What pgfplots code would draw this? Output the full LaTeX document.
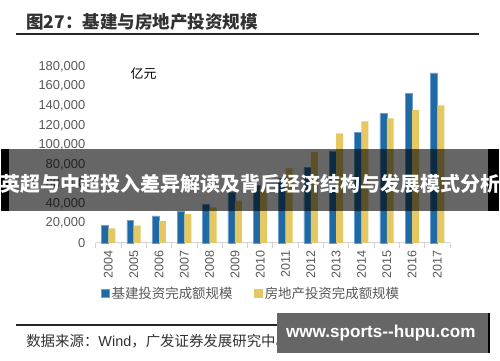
\documentclass[border=0pt]{standalone}
\usepackage{pgfplots}
\pgfplotsset{compat=1.18}
\usepackage{fontspec}
\setmainfont{Liberation Sans}
\newfontfamily\cjk{Noto Sans CJK SC}
\definecolor{barblue}{RGB}{31,106,165}
\definecolor{baredge}{RGB}{110,160,205}
\definecolor{baryellow}{RGB}{229,200,100}
\definecolor{ticktext}{RGB}{89,89,89}
\definecolor{axisgray}{RGB}{210,210,210}
\definecolor{titlegray}{RGB}{50,50,50}
\begin{document}
\begin{tikzpicture}[x=1pt,y=1pt]
\path[fill=white] (0,0) rectangle (500,362);
% title
\node[anchor=west,text=titlegray,inner sep=0pt] at (25,340.3) {\fontsize{17.6}{17.6}\selectfont\cjk\bfseries 图27：基建与房地产投资规模};
\draw[line width=1.3pt,black!85] (15,327.7) -- (480,327.7);
% axis
\begin{axis}[
  at={(95pt,118pt)}, anchor=south west,
  scale only axis, width=356pt, height=177pt,
  xmin=-0.5, xmax=13.5, ymin=0, ymax=180000,
  ybar=0pt, bar width=7pt,
  axis x line=bottom, axis y line=left,
  x axis line style={-,draw=axisgray,line width=0.8pt},
  y axis line style={draw=none},
  xtick={0,...,13},
  xticklabels={2004,2005,2006,2007,2008,2009,2010,2011,2012,2013,2014,2015,2016,2017},
  minor xtick={-0.5,0.5,...,13.5},
  major tick length=0pt, minor tick length=5pt,
  tick align=outside,
  minor tick style={draw=axisgray,line width=0.8pt},
  ytick={0,20000,...,180000},
  ytick style={draw=none},
  scaled y ticks=false,
  yticklabel={\pgfmathprintnumber[fixed,precision=0,1000 sep={,},assume math mode=true]{\tick}},
  yticklabel style={font=\fontsize{13}{13}\selectfont, text=ticktext, xshift=-7pt},
  xticklabel style={font=\fontsize{12.6}{12.6}\selectfont, text=ticktext, rotate=90, anchor=east, xshift=-4pt},
  legend columns=2,
  legend style={draw=none, fill=none, at={(0.438,-0.288)}, anchor=center,
    font=\fontsize{13.5}{13.5}\selectfont\cjk, text=ticktext,
    /tikz/every even column/.append style={column sep=20pt}},
  legend image code/.code={\fill[#1] (0pt,-4.2pt) rectangle (8.4pt,4.2pt);},
  clip=false,
]
\addplot[fill=barblue, draw=baredge, line width=0.5pt] coordinates {
(0,17900) (1,22600) (2,27400) (3,31800) (4,38900) (5,51800) (6,59000)
(7,65900) (8,77100) (9,93700) (10,112700) (11,132000) (12,152600) (13,173600)};
\addlegendentry{基建投资完成额规模}
\addplot[fill=baryellow, draw=none] coordinates {
(0,14800) (1,17500) (2,22300) (3,29400) (4,36100) (5,43200) (6,56000)
(7,76000) (8,93000) (9,111700) (10,124200) (11,127200) (12,135600) (13,140400)};
\addlegendentry{房地产投资完成额规模}
\node[anchor=center,inner sep=0pt] at (axis description cs:0.135,0.96) {\fontsize{13}{13}\selectfont\cjk 亿元};
\end{axis}
% banner
\fill[black] (0,150) rectangle (8,212);
\fill[black] (489,150) rectangle (500,212);
\fill[black,opacity=0.6] (8,150) rectangle (489,212);
\node[text=white,inner sep=0pt] at (250,177) {\fontsize{20.1}{20.1}\selectfont\cjk\bfseries 英超与中超投入差异解读及背后经济结构与发展模式分析};
% footer
\draw[line width=1.2pt,black!85] (15,35.3) -- (480,35.3);
\node[anchor=west,text=titlegray,inner sep=0pt] at (25,18.7) {\fontsize{14.5}{14.5}\selectfont{\cjk 数据来源：}Wind{\cjk ，广发证券发展研究中心}};
\fill[black!60] (277,7) rectangle (490,47);
\draw[black,line width=1.5pt] (490,7) -- (490,47);
\node[text=white,inner sep=0pt] at (381.5,27.7) {\fontsize{17.2}{17.2}\selectfont\bfseries www.sports{-}{-}hupu.com};
\end{tikzpicture}
\end{document}
